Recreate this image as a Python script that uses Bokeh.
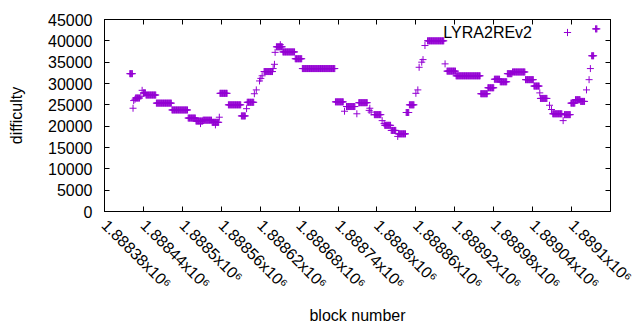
import math
import numpy as np
from bokeh.plotting import figure
from bokeh.models import (FixedTicker, LinearAxis, Label, Legend, LegendItem,
                          Range1d, CustomJSTickFormatter)
from bokeh.embed import file_html
from bokeh.resources import INLINE

# ---- data: runs of blocks with the same difficulty (start block, end block, difficulty)
run_start = [1888419, 1888424, 1888425, 1888427, 1888428, 1888436, 1888438, 1888440, 1888444,
             1888460, 1888484, 1888509, 1888521, 1888528, 1888532, 1888546, 1888551, 1888557,
             1888558, 1888571, 1888591, 1888599, 1888600, 1888611, 1888614, 1888619, 1888621,
             1888623, 1888626, 1888640, 1888642, 1888643, 1888645, 1888651, 1888655, 1888674,
             1888685, 1888736, 1888750, 1888753, 1888769, 1888772, 1888788, 1888789, 1888791,
             1888796, 1888808, 1888811, 1888812, 1888822, 1888832, 1888833, 1888845, 1888850,
             1888860, 1888863, 1888865, 1888869, 1888871, 1888874, 1888878, 1888905, 1888908,
             1888922, 1888960, 1888971, 1888981, 1888990, 1889001, 1889009, 1889029, 1889042,
             1889051, 1889052, 1889066, 1889069, 1889071, 1889087, 1889089, 1889099, 1889106,
             1889114, 1889123, 1889127, 1889129, 1889131, 1889137]
run_end = [1888423, 1888424, 1888425, 1888427, 1888434, 1888436, 1888438, 1888443, 1888459,
           1888483, 1888508, 1888520, 1888531, 1888528, 1888545, 1888556, 1888551, 1888557,
           1888569, 1888590, 1888597, 1888599, 1888610, 1888611, 1888614, 1888619, 1888621,
           1888623, 1888639, 1888640, 1888642, 1888643, 1888654, 1888651, 1888673, 1888684,
           1888735, 1888748, 1888750, 1888766, 1888769, 1888785, 1888788, 1888789, 1888791,
           1888806, 1888808, 1888811, 1888821, 1888829, 1888832, 1888844, 1888849, 1888857,
           1888860, 1888863, 1888865, 1888869, 1888871, 1888874, 1888903, 1888905, 1888921,
           1888959, 1888970, 1888980, 1888989, 1889000, 1889008, 1889028, 1889041, 1889050,
           1889051, 1889062, 1889066, 1889069, 1889085, 1889087, 1889098, 1889105, 1889113,
           1889120, 1889123, 1889127, 1889129, 1889134, 1889139]
run_diff = [32300, 24200, 26000, 26300, 26600, 27000, 28400, 27800, 27300,
            25400, 23800, 21900, 21200, 20600, 21400, 20900, 20300, 22100,
            27700, 25000, 22400, 24100, 25600, 27600, 28500, 30600, 31200,
            31800, 32800, 33500, 34500, 37300, 38600, 39100, 37400, 35800,
            33500, 25700, 23500, 24600, 22900, 25500, 23700, 24200, 23300,
            22700, 21300, 20600, 20200, 19000, 17600, 18200, 23200, 25000,
            27700, 28500, 33800, 35000, 35600, 38900, 40000, 34600, 32900,
            31800, 27600, 29000, 31000, 30400, 32300, 32700, 30900, 29400,
            27800, 26500, 24900, 23900, 22900, 21300, 22700, 25400, 26200,
            25800, 28500, 30900, 33500, 36500, 42800]

x_ticks = [1888380, 1888440, 1888500, 1888560, 1888620, 1888680, 1888740,
           1888800, 1888860, 1888920, 1888980, 1889040, 1889100, 1889160]
x_tick_labels = ["1.88838x10⁶", "1.88844x10⁶", "1.8885x10⁶", "1.88856x10⁶",
                 "1.88862x10⁶", "1.88868x10⁶", "1.88874x10⁶", "1.8888x10⁶",
                 "1.88886x10⁶", "1.88892x10⁶", "1.88898x10⁶", "1.88904x10⁶",
                 "1.8891x10⁶", "1.88916x10⁶"]
y_ticks = [0, 5000, 10000, 15000, 20000, 25000, 30000, 35000, 40000, 45000]
series_name = "LYRA2REv2"

blocks = np.concatenate([np.arange(s, e + 1) for s, e in zip(run_start, run_end)])
diffs = np.concatenate([np.full(e - s + 1, d) for s, e, d in zip(run_start, run_end, run_diff)])

FONT = "Liberation Sans"
COLOR = "#9400D3"
LABEL_STANDOFF = 11

p = figure(width=640, height=330, output_backend="svg", toolbar_location=None,
           x_range=Range1d(x_ticks[0], x_ticks[-1]), y_range=Range1d(y_ticks[0], y_ticks[-1]),
           min_border_left=104, min_border_right=30, min_border_top=19, min_border_bottom=119,
           background_fill_color="white", border_fill_color="white")
p.grid.visible = False
p.outline_line_color = "black"
p.outline_line_alpha = 1.0
p.outline_line_width = 1

for ax in (p.xaxis[0], p.yaxis[0]):
    ax.major_tick_in = 5
    ax.major_tick_out = 0
    ax.minor_tick_line_color = None
    ax.axis_line_color = "black"
    ax.major_tick_line_color = "black"
    ax.major_label_text_font = FONT
    ax.major_label_text_font_size = "16px"
    ax.major_label_text_color = "black"
    ax.axis_label_text_font = FONT
    ax.axis_label_text_font_size = "16px"
    ax.axis_label_text_font_style = "normal"
    ax.axis_label_text_color = "black"

# the last tick label runs off the right edge of the picture in the original;
# the axis would pull it back over its neighbour, so it is given as a free label
overrides = {t: l for t, l in zip(x_ticks[:-1], x_tick_labels[:-1])}
overrides[x_ticks[-1]] = ""
p.xaxis.ticker = FixedTicker(ticks=x_ticks)
p.xaxis.major_label_overrides = overrides
p.xaxis.major_label_orientation = -math.pi / 4
p.xaxis.major_label_standoff = LABEL_STANDOFF
p.xaxis.axis_label = "block number"
p.xaxis.axis_label_standoff = 6

p.yaxis.ticker = FixedTicker(ticks=y_ticks)
p.yaxis.major_label_standoff = 12
p.yaxis.axis_label = "difficulty"
p.yaxis.axis_label_standoff = 20

empty = CustomJSTickFormatter(code="return ''")
top = LinearAxis(ticker=FixedTicker(ticks=x_ticks), formatter=empty, major_tick_in=5,
                 major_tick_out=0, minor_tick_line_color=None, major_label_standoff=0,
                 major_label_text_font_size="1px", axis_line_color="black")
right = LinearAxis(ticker=FixedTicker(ticks=y_ticks), formatter=empty, major_tick_in=5,
                   major_tick_out=0, minor_tick_line_color=None, major_label_standoff=0,
                   major_label_text_font_size="1px", axis_line_color="black")
p.add_layout(top, "above")
p.add_layout(right, "right")

r = p.scatter(blocks, diffs, marker="cross", size=7, line_color=COLOR, line_width=1)

legend = Legend(items=[LegendItem(label=" ", renderers=[r])], location=(454, 170),
                padding=0, margin=0, spacing=0, border_line_color=None,
                background_fill_alpha=0, glyph_width=18, glyph_height=18,
                label_width=0, label_height=18, label_standoff=0,
                label_text_font_size="1px")
p.add_layout(legend)

p.add_layout(Label(x=1889039, y=42030, text=series_name, text_align="right",
                   text_baseline="middle", text_font=FONT, text_font_size="16px",
                   text_color="black"))

p.add_layout(Label(x=x_ticks[-1], y=0, y_offset=-LABEL_STANDOFF, text=x_tick_labels[-1],
                   angle=-math.pi / 4, text_align="left", text_baseline="middle",
                   text_font=FONT, text_font_size="16px", text_color="black"))

open("out.html", "w").write(file_html(p, INLINE))
